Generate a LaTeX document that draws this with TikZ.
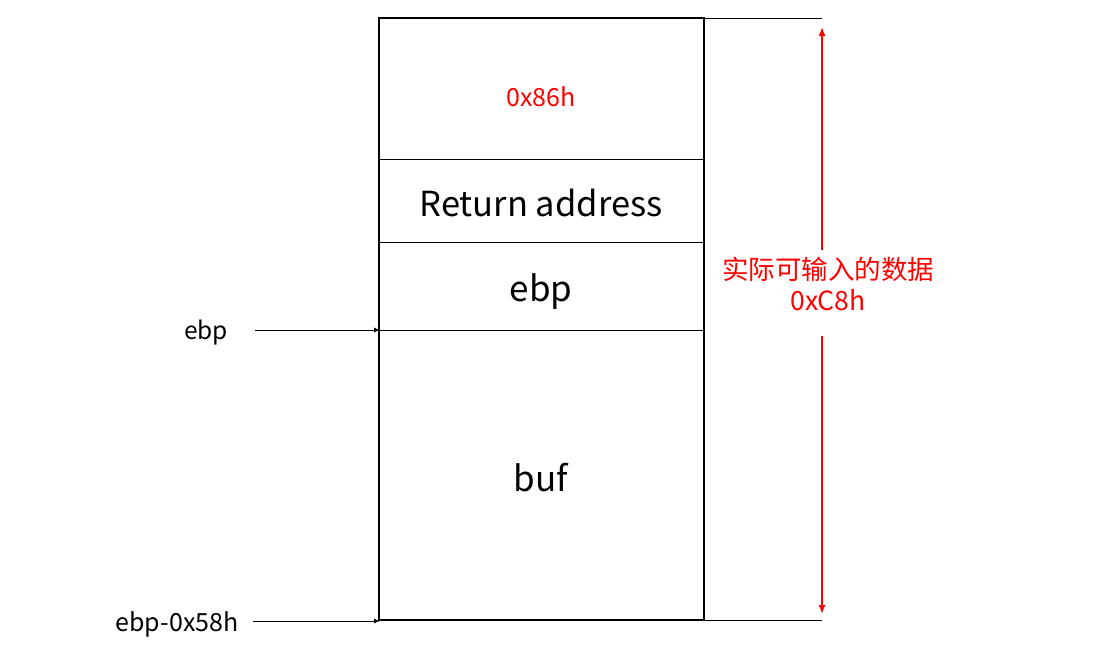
\documentclass[tikz,border=0pt]{standalone}
\usepackage{fontspec}
\setmainfont{Noto Sans CJK SC}
\usetikzlibrary{arrows.meta}
\definecolor{myred}{RGB}{255,0,0}
\begin{document}
\begin{tikzpicture}[x=1pt,y=-1pt,
  boxline/.style={line width=1.6pt},
  thinline/.style={line width=0.9pt},
  ptr/.style={line width=0.9pt,-{Latex[length=6pt,width=5pt]}},
  span/.style={myred,line width=1.5pt,-{Latex[length=9pt,width=7pt]}},
  lbl/.style={inner sep=0pt,anchor=center}]
\useasboundingbox (0,0) rectangle (1106,649);
% stack box
\coordinate (tl) at (379,18);
\coordinate (br) at (704,620);
\draw[thinline] (379,159) -- (704,159);
\draw[thinline] (379,242) -- (704,242);
\draw[thinline] (379,330) -- (704,330);
\draw[boxline] (tl) rectangle (br);
% labels in box
\node[lbl,myred,font=\fontsize{25}{30}\selectfont] (n86) at (541,97) {0x86h};
\node[lbl,font=\fontsize{34.5}{40}\selectfont] (ret) at (541,203) {Return address};
\node[lbl,font=\fontsize{35}{40}\selectfont] (ebpin) at (541,292) {ebp};
\node[lbl,font=\fontsize{35}{40}\selectfont] (buf) at (541,478) {buf};
% right extension lines
\coordinate (topR) at (822,18);
\coordinate (botR) at (822,620);
\draw[thinline] (704,18) -- (topR);
\draw[thinline] (704,620) -- (botR);
% red span arrow
\node[lbl,myred,font=\fontsize{26.5}{30}\selectfont,align=center] (cn) at (828,269) {实际可输入的数据};
\node[lbl,myred,font=\fontsize{26.5}{30}\selectfont] (c8) at (828,300) {0xC8h};
\coordinate (upS) at (822,250);
\coordinate (upE) at (822,27);
\coordinate (dnS) at (822,336);
\coordinate (dnE) at (822,614);
\draw[span] (upS) -- (upE);
\draw[span] (dnS) -- (dnE);
% left pointers
\node[lbl,font=\fontsize{24.5}{28}\selectfont] (ebp) at (206,333) {ebp};
\node[lbl,font=\fontsize{25}{28}\selectfont] (ebp58) at (177,624) {ebp-0x58h};
\coordinate (a1s) at (255,330);
\coordinate (a1e) at (380,330);
\coordinate (a2s) at (253,621);
\coordinate (a2e) at (380,621);
\draw[ptr] (a1s) -- (a1e);
\draw[ptr] (a2s) -- (a2e);
\end{tikzpicture}
\end{document}
